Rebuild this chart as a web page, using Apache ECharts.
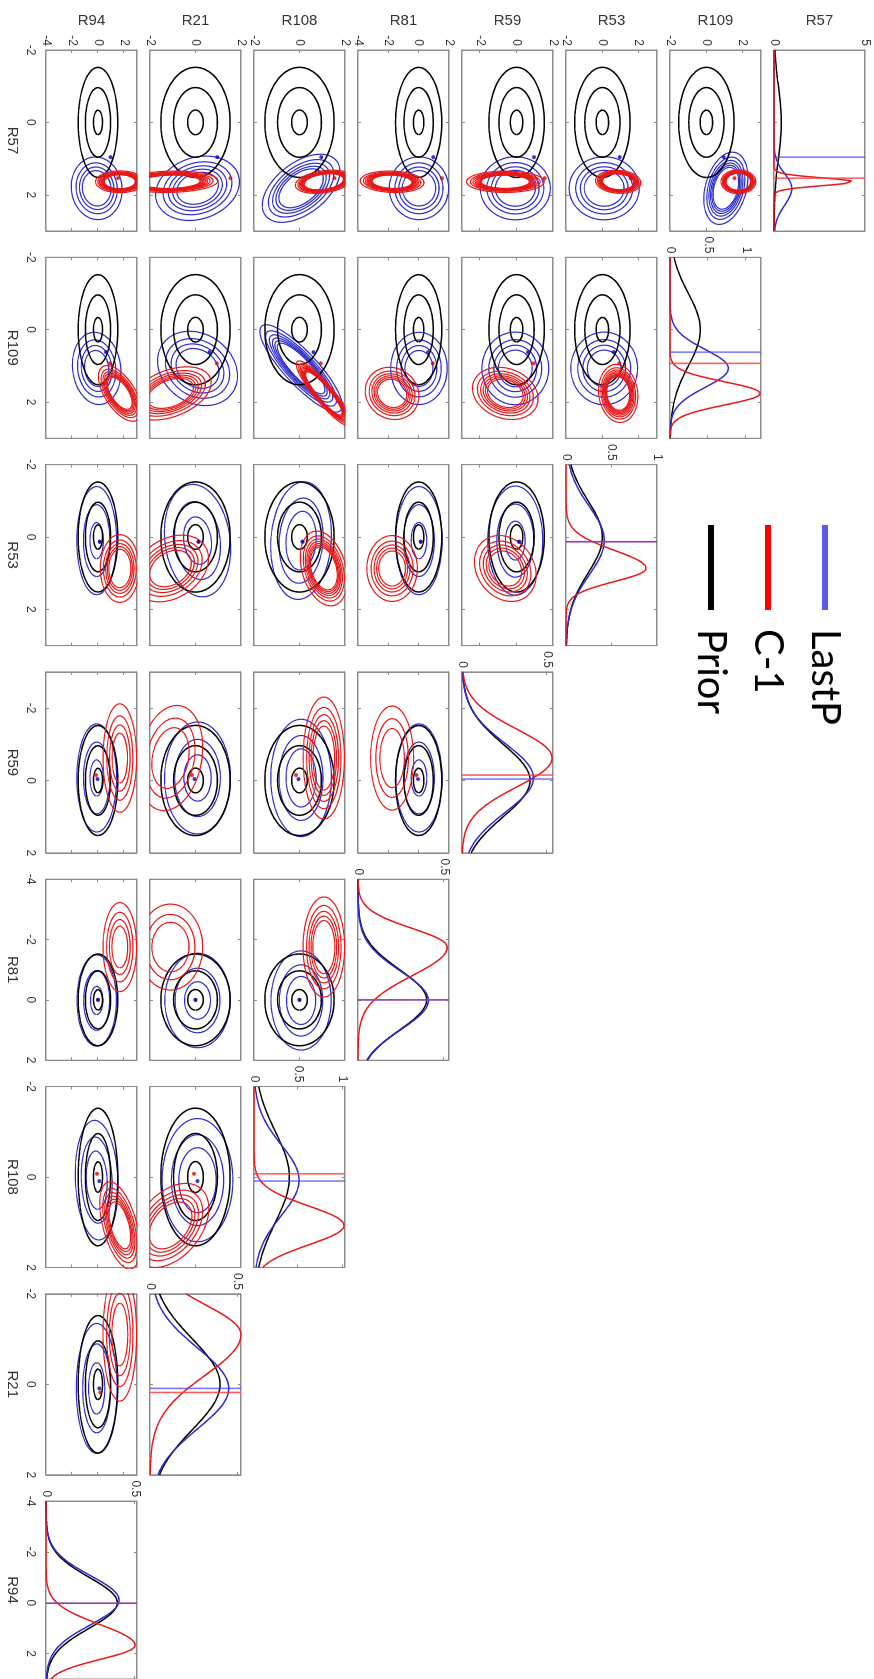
<!DOCTYPE html>
<html><head><meta charset="utf-8">
<script src="https://cdn.jsdelivr.net/npm/echarts@6/dist/echarts.min.js"></script>
<style>
html,body{margin:0;padding:0;width:874px;height:1679px;overflow:hidden;background:#fff;}
#main{position:absolute;left:0;top:0;width:1679px;height:874px;transform-origin:0 0;transform:translate(874px,0) rotate(90deg);}
</style></head><body><div id="main"></div>
<script>
// ---------------- DATA ----------------
const variables = ['R57','R109','R53','R59','R81','R108','R21','R94'];
const axisMin   = [-2,-2,-2,-3,-4,-2,-2,-4];
const axisMax   = [ 3, 3, 3, 2, 2, 2, 2, 3];
const axisTicks = [[-2,0,2],[-2,0,2],[-2,0,2],[-2,0,2],[-4,-2,0,2],[-2,0,2],[-2,0,2],[-4,-2,0,2]];
const densityMax   = [5, 1.2, 1.0, 0.535, 0.53, 1.03, 0.52, 0.51];
const densityTicks = [[0,5],[0,0.5,1],[0,0.5,1],[0,0.5],[0,0.5],[0,0.5,1],[0,0.5],[0,0.5]];

// Prior (black)
const priorMean = [0,0,0,0,0,0,0,0];
const priorSd   = [1,1,1,1,1,1,1,1];
const priorPeak = [0.40,0.40,0.40,0.40,0.40,0.40,0.40,0.40];

// LastP (blue)
const lastPMean  = [1.82, 1.07, 0.10, -0.07, 0.02, 0.07, 0.09, -0.10];
const lastPSdL   = [0.40, 0.52, 0.95, 0.95, 0.97, 0.78, 0.89, 0.97];
const lastPSdR   = [0.46, 0.52, 0.95, 0.95, 0.97, 0.78, 0.89, 0.97];
const lastPPeak  = [0.98, 0.77, 0.42, 0.42, 0.41, 0.51, 0.45, 0.41];
const lastPValue = [0.96, 0.62, 0.13, -0.04, 0.00, 0.09, 0.09, 0.02];

// C-1 (red)
const c1Mean  = [1.64, 1.76, 0.87, -0.62, -1.75, 1.07, -1.10, 1.68];
const c1SdL   = [0.11, 0.32, 0.50, 0.80, 0.62, 0.43, 0.66, 0.82];
const c1SdR   = [0.11, 0.32, 0.36, 0.80, 0.95, 0.43, 0.90, 0.55];
const c1Peak  = [4.30, 1.19, 0.88, 0.53, 0.52, 1.02, 0.52, 0.50];
const c1Value = [1.54, 0.93, 0.13, -0.15, 0.00, -0.07, 0.18, 0.02];

// pairwise correlations (row i: variable i with variables i+1..7)
const rhoLastP = [
  [-0.30, 0.00, 0.00, 0.00, -0.50, -0.20, 0.05],
  [ 0.00, 0.00, 0.00, 0.85,  0.20,  0.10],
  [ 0.00, 0.00,-0.10, 0.15,  0.00],
  [ 0.00, 0.00, 0.00, 0.00],
  [ 0.00, 0.00, 0.00],
  [ 0.00, 0.10],
  [ 0.00]
];
const rhoC1 = [
  [ 0.00, 0.10, 0.00, 0.10, -0.30, -0.10, 0.00],
  [ 0.10, 0.20, 0.10, 0.90, -0.40,  0.60],
  [ 0.20, 0.00, 0.30,-0.30,  0.00],
  [ 0.00, 0.00,-0.20, 0.00],
  [ 0.00, 0.00, 0.00],
  [-0.40, 0.50],
  [ 0.00]
];
const contourLevels = [0.05,0.10,0.15,0.20,0.25,0.30,0.35,0.40,0.45];
const legendNames = ['LastP','C-1','Prior'];

// ---------------- STYLE / LAYOUT ----------------
const G = {left0:50, dx:207.3, top0:9, dy:104, w:181, h:91};
const AXC = '#8c8c8c', TXT = '#333333';
const FONT = '"Liberation Sans", Arial, sans-serif';
const COL = {blue:'#2b2bd0', red:'#e81818', black:'#000000', blueLine:'rgba(70,70,250,0.75)', redLine:'rgba(255,60,60,0.85)'};

function ellipse(mx,my,sx,sy,rho,r){
  const pts=[], s=Math.sqrt(1-rho*rho);
  for(let k=0;k<=80;k++){
    const t=2*Math.PI*k/80, c=Math.cos(t), sn=Math.sin(t);
    pts.push([mx+sx*r*c, my+sy*r*(rho*c+s*sn)]);
  }
  return pts;
}
function peak2d(sx,sy,rho){ return 1/(2*Math.PI*sx*sy*Math.sqrt(1-rho*rho)); }
// number of drawn levels follows a smoothed (kde-like) peak; ring sizes follow the fitted density
function radii(p, smoothed){
  const pe = smoothed ? Math.min(Math.sqrt(p*0.15),0.5) : p;
  return contourLevels.filter(L=>L<pe).map(L=>Math.sqrt(2*Math.log(p/L)));
}
function dens(x,m,sl,sr,pk){ const s=x<m?sl:sr, z=(x-m)/s; return pk*Math.exp(-0.5*z*z); }

const grids=[], xAxes=[], yAxes=[], series=[];
function axisBase(pos, min, max, ticks, showLabel){
  return {type:'value', position:pos, min:min, max:max, splitLine:{show:false},
    axisLine:{show:true, onZero:false, lineStyle:{color:AXC, width:1}},
    axisTick:{show:true, inside:true, length:3, customValues:ticks, lineStyle:{color:AXC}},
    axisLabel:{show:showLabel, customValues:ticks, fontSize:12, color:TXT, fontFamily:FONT},
    silent:true};
}
function lineSeries(name, g, data, color, width, z){
  series.push({type:'line', name:name, xAxisIndex:2*g, yAxisIndex:2*g, data:data, showSymbol:false, symbol:'none',
    lineStyle:{color:color, width:width}, itemStyle:{color:color}, clip:true, silent:true, animation:false, z:z});
}

let g=0;
for(let j=0;j<8;j++){
  for(let i=0;i<=j;i++){
    grids.push({left:G.left0+G.dx*i, top:G.top0+G.dy*j, width:G.w, height:G.h, show:true, borderColor:AXC, borderWidth:1});
    const diag = i===j;
    const xb = axisBase('bottom', axisMin[i], axisMax[i], axisTicks[i], j===7);
    xb.gridIndex=g; xb.axisLabel.margin=10;
    if(j===7){ xb.name=variables[i]; xb.nameLocation='middle'; xb.nameGap=26; xb.nameTextStyle={fontSize:15,color:TXT,fontFamily:FONT}; }
    const xt = axisBase('top', axisMin[i], axisMax[i], axisTicks[i], false); xt.gridIndex=g;
    xAxes.push(xb, xt);
    const ymin = diag?0:axisMin[j], ymax = diag?densityMax[j]:axisMax[j], yt = diag?densityTicks[j]:axisTicks[j];
    const yl = axisBase('left', ymin, ymax, yt, i===0 || diag); yl.gridIndex=g; yl.axisLabel.margin=4;
    if(i===0){ yl.name=variables[j]; yl.nameLocation='middle'; yl.nameRotate=90; yl.nameGap=22; yl.nameTextStyle={fontSize:15,color:TXT,fontFamily:FONT}; }
    const yr = axisBase('right', ymin, ymax, yt, false); yr.gridIndex=g;
    yAxes.push(yl, yr);

    if(diag){
      const xs=[]; const n=240;
      for(let k=0;k<=n;k++) xs.push(axisMin[j]+(axisMax[j]-axisMin[j])*k/n);
      lineSeries('Prior', g, xs.map(x=>[x,dens(x,priorMean[j],priorSd[j],priorSd[j],priorPeak[j])]), COL.black, 1.5, 2);
      lineSeries('LastP', g, xs.map(x=>[x,dens(x,lastPMean[j],lastPSdL[j],lastPSdR[j],lastPPeak[j])]), COL.blue, 1.5, 3);
      lineSeries('C-1', g, xs.map(x=>[x,dens(x,c1Mean[j],c1SdL[j],c1SdR[j],c1Peak[j])]), COL.red, 1.5, 4);
      lineSeries('C-1', g, [[c1Value[j],0],[c1Value[j],densityMax[j]]], COL.redLine, 1.5, 5);
      lineSeries('LastP', g, [[lastPValue[j],0],[lastPValue[j],densityMax[j]]], COL.blueLine, 1.5, 6);
    } else {
      let sx=(lastPSdL[i]+lastPSdR[i])/2, sy=(lastPSdL[j]+lastPSdR[j])/2, rho=rhoLastP[i][j-i-1];
      radii(peak2d(sx,sy,rho), true).forEach(r=>lineSeries('LastP', g, ellipse(lastPMean[i],lastPMean[j],sx,sy,rho,r), COL.blue, 1.2, 2));
      radii(peak2d(priorSd[i],priorSd[j],0), false).forEach(r=>lineSeries('Prior', g, ellipse(priorMean[i],priorMean[j],priorSd[i],priorSd[j],0,r), COL.black, 1.5, 3));
      sx=(c1SdL[i]+c1SdR[i])/2; sy=(c1SdL[j]+c1SdR[j])/2; rho=rhoC1[i][j-i-1];
      radii(peak2d(sx,sy,rho), true).forEach(r=>lineSeries('C-1', g, ellipse(c1Mean[i],c1Mean[j],sx,sy,rho,r), COL.red, 1.2, 4));
      series.push({type:'scatter', name:'C-1', xAxisIndex:2*g, yAxisIndex:2*g, data:[[c1Value[i],c1Value[i]]], symbolSize:4, itemStyle:{color:'#e00000'}, silent:true, animation:false, clip:true, z:6});
      series.push({type:'scatter', name:'LastP', xAxisIndex:2*g, yAxisIndex:2*g, data:[[lastPValue[i],lastPValue[i]]], symbolSize:4, itemStyle:{color:'#0000c8'}, silent:true, animation:false, clip:true, z:7});
    }
    g++;
  }
}

const chart = echarts.init(document.getElementById('main'), null, {renderer:'canvas', width:1679, height:874});
chart.setOption({
  animation:false,
  backgroundColor:'#ffffff',
  grid:grids, xAxis:xAxes, yAxis:yAxes, series:series,
  legend:{show:true, orient:'vertical', left:520, top:24, itemWidth:85, itemHeight:6, itemGap:17, icon:'rect', selectedMode:false,
    textStyle:{fontSize:40, color:'#000', fontFamily:'Lato, "Open Sans", sans-serif', padding:[0,0,0,14]},
    itemStyle:{borderWidth:0},
    data:[{name:legendNames[0], itemStyle:{color:'#5a5aec'}},{name:legendNames[1], itemStyle:{color:'#ff0000'}},{name:legendNames[2], itemStyle:{color:'#000000'}}]}
});
</script></body></html>
